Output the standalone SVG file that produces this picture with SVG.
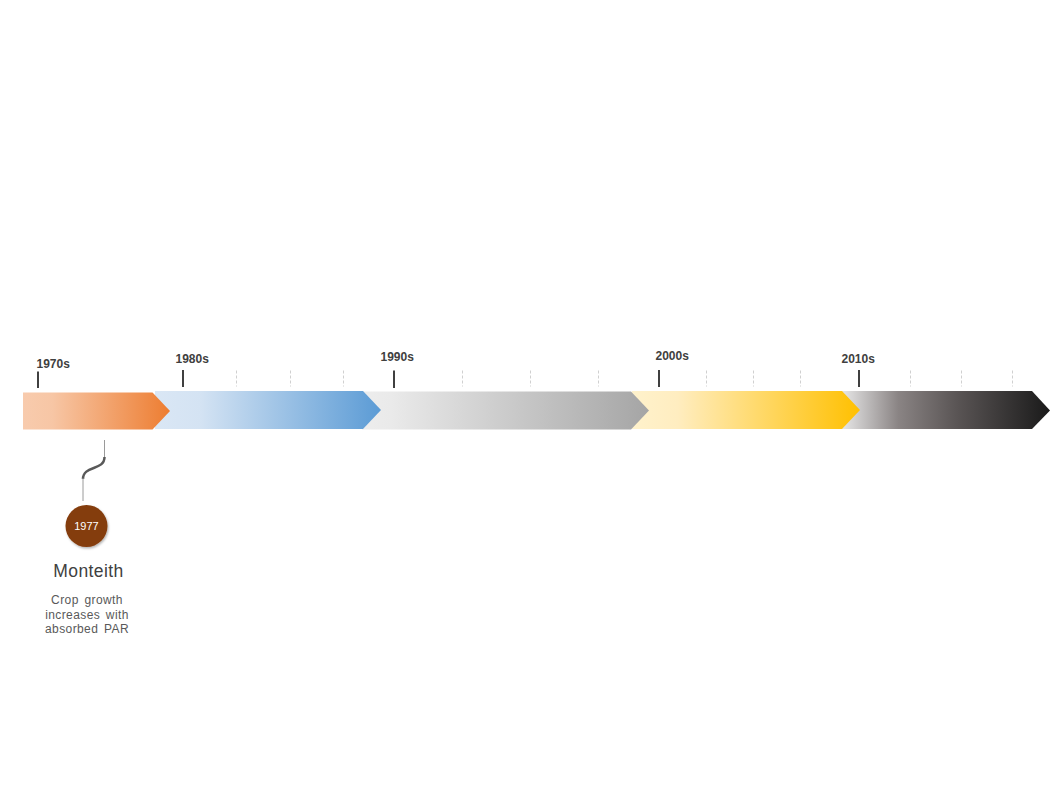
<svg xmlns="http://www.w3.org/2000/svg" width="1058" height="794" viewBox="0 0 1058 794">
<style>
.lbl{font-family:"Liberation Sans",Arial,sans-serif;font-weight:bold;font-size:12px;fill:#404040}
.major{stroke:#404040;stroke-width:2}
.minor{stroke:#d0d0d0;stroke-width:1;stroke-dasharray:3,2}
.title{font-family:"Liberation Sans",Arial,sans-serif;font-size:17.5px;letter-spacing:0.4px;fill:#404040;text-anchor:middle}
.desc{font-family:"Liberation Sans",Arial,sans-serif;font-size:12px;letter-spacing:0.4px;word-spacing:2px;fill:#595959;text-anchor:middle}
</style>
<defs>
<linearGradient id="gO" x1="0" y1="0" x2="1" y2="0"><stop offset="0" stop-color="#F8CBAD"/><stop offset="0.2" stop-color="#F7C6A5"/><stop offset="1" stop-color="#ED7D31"/></linearGradient>
<linearGradient id="gB" x1="0" y1="0" x2="1" y2="0"><stop offset="0" stop-color="#DAE7F5"/><stop offset="0.2" stop-color="#D4E3F3"/><stop offset="1" stop-color="#5B9BD5"/></linearGradient>
<linearGradient id="gG" x1="0" y1="0" x2="1" y2="0"><stop offset="0" stop-color="#EDEDED"/><stop offset="0.1" stop-color="#EAEAEA"/><stop offset="1" stop-color="#A5A5A5"/></linearGradient>
<linearGradient id="gY" x1="0" y1="0" x2="1" y2="0"><stop offset="0" stop-color="#FFF2CC"/><stop offset="0.2" stop-color="#FFEDC0"/><stop offset="1" stop-color="#FFC000"/></linearGradient>
<linearGradient id="gK" x1="0" y1="0" x2="1" y2="0"><stop offset="0" stop-color="#E6E6E6"/><stop offset="0.05" stop-color="#D6D5D5"/><stop offset="0.27" stop-color="#8A8484"/><stop offset="0.55" stop-color="#5A5555"/><stop offset="1" stop-color="#1A1A1A"/></linearGradient>
<filter id="sh" x="-30%" y="-30%" width="170%" height="170%"><feDropShadow dx="1" dy="1.5" stdDeviation="1.2" flood-color="#000" flood-opacity="0.3"/></filter>
</defs>
<rect width="1058" height="794" fill="#fff"/>
<g id="bar">
<polygon points="842,391 1032,391 1050,410.5 1032,429 842,429" fill="url(#gK)"/>
<polygon points="632,391 842,391 860,410 842,429 632,429" fill="url(#gY)"/>
<polygon points="362,391.5 631,391.5 649,410.5 631,429.5 362,429.5" fill="url(#gG)"/>
<polygon points="155,391 363,391 381,410 363,429 155,429" fill="url(#gB)"/>
<polygon points="23,392.5 152.5,392.5 170,411 152.5,429.5 23,429.5" fill="url(#gO)"/>
</g>
<g id="ticks">
<line class="major" x1="38" y1="371.5" x2="38" y2="388"/>
<line class="major" x1="183" y1="370" x2="183" y2="387"/>
<line class="major" x1="394" y1="370.5" x2="394" y2="388"/>
<line class="major" x1="659" y1="370" x2="659" y2="387"/>
<line class="major" x1="859" y1="370" x2="859" y2="387"/>
<line class="minor" x1="236.5" y1="370.5" x2="236.5" y2="386.5"/>
<line class="minor" x1="290.5" y1="370.5" x2="290.5" y2="386.5"/>
<line class="minor" x1="343.5" y1="370.5" x2="343.5" y2="386.5"/>
<line class="minor" x1="462.5" y1="370.5" x2="462.5" y2="386.5"/>
<line class="minor" x1="530.5" y1="370.5" x2="530.5" y2="386.5"/>
<line class="minor" x1="598.5" y1="370.5" x2="598.5" y2="386.5"/>
<line class="minor" x1="706.5" y1="370.5" x2="706.5" y2="386.5"/>
<line class="minor" x1="753.5" y1="370.5" x2="753.5" y2="386.5"/>
<line class="minor" x1="800.5" y1="370.5" x2="800.5" y2="386.5"/>
<line class="minor" x1="910.5" y1="370.5" x2="910.5" y2="386.5"/>
<line class="minor" x1="961.5" y1="370.5" x2="961.5" y2="386.5"/>
<line class="minor" x1="1012.5" y1="370.5" x2="1012.5" y2="386.5"/>
</g>
<g id="labels">
<text class="lbl" x="36.5" y="367.5">1970s</text>
<text class="lbl" x="175.5" y="362.5">1980s</text>
<text class="lbl" x="380.5" y="361">1990s</text>
<text class="lbl" x="655.5" y="359.5">2000s</text>
<text class="lbl" x="841.5" y="362.5">2010s</text>
</g>
<g id="connectors">
<line x1="104.5" y1="440" x2="104.5" y2="458" stroke="#9a9a9a" stroke-width="1"/>
<path d="M104.5,457 C104.5,471 83,465 83,479" fill="none" stroke="#595959" stroke-width="2.5"/>
<line x1="83" y1="478" x2="83" y2="501" stroke="#9a9a9a" stroke-width="1"/>
</g>
<g id="event-1977">
<circle cx="86.5" cy="526" r="21" fill="#843C0C" filter="url(#sh)"/>
<text x="86.5" y="530" font-family="'Liberation Sans',Arial,sans-serif" font-size="11" fill="#ffffff" text-anchor="middle">1977</text>
<text class="title" x="88.5" y="577">Monteith</text>
<text class="desc" x="87" y="603.5">Crop growth</text>
<text class="desc" x="87" y="618.5">increases with</text>
<text class="desc" x="87" y="633">absorbed PAR</text>
</g>
</svg>
